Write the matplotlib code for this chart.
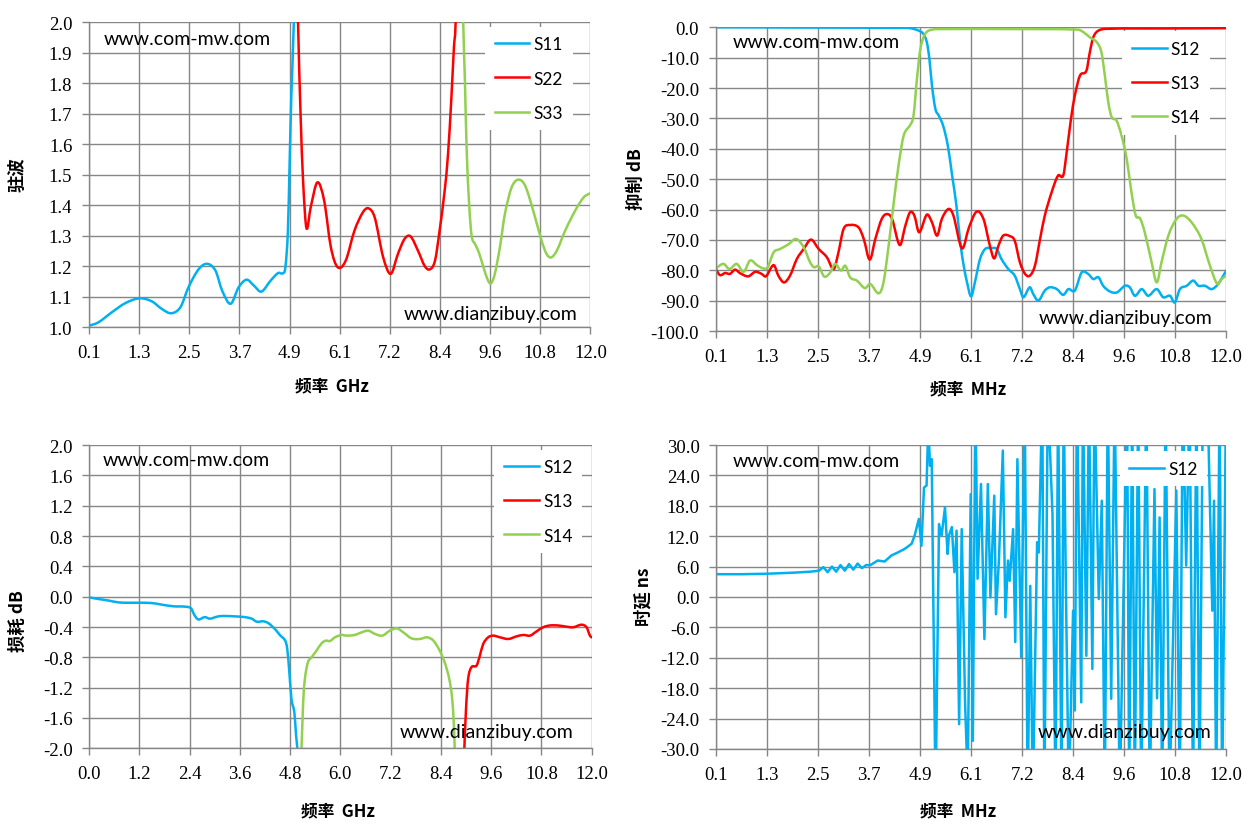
import matplotlib
matplotlib.use("Agg")
import matplotlib.pyplot as plt
from matplotlib.path import Path
from matplotlib.patches import PathPatch
import numpy as np

BLUE = "#00B0F0"
RED = "#FF0000"
GREEN = "#92D050"
GRID = "#868686"

# ---- top left: VSWR ----
vswr_ticks = ["0.1", "1.3", "2.5", "3.7", "4.9", "6.1", "7.2", "8.4", "9.6", "10.8", "12.0"]
s11_f = [0.1, 0.32, 0.64, 0.96, 1.3, 1.59, 1.83, 2.05, 2.27, 2.46, 2.7, 2.9, 3.1, 3.26, 3.46,
         3.65, 3.84, 4.01, 4.19, 4.41, 4.59, 4.7, 4.76, 4.82, 4.86, 4.9, 4.96, 5.0]
s11_v = [1.005, 1.016, 1.049, 1.079, 1.095, 1.085, 1.06, 1.046, 1.066, 1.131, 1.19, 1.208,
         1.186, 1.12, 1.077, 1.131, 1.156, 1.137, 1.117, 1.153, 1.178, 1.177, 1.197, 1.317,
         1.535, 1.754, 2.0, 2.3]
s22_f = [5.0, 5.06, 5.12, 5.18, 5.26, 5.36, 5.52, 5.68, 5.84, 6.0, 6.19, 6.4, 6.6, 6.73, 6.88,
         7.08, 7.26, 7.43, 7.59, 7.73, 7.91, 8.07, 8.19, 8.31, 8.42, 8.54, 8.62, 8.7, 8.76,
         8.8, 8.84]
s22_v = [2.4, 2.0, 1.70, 1.48, 1.325, 1.393, 1.475, 1.415, 1.262, 1.197, 1.218, 1.317, 1.377,
         1.39, 1.36, 1.23, 1.175, 1.24, 1.29, 1.298, 1.25, 1.20, 1.19, 1.218, 1.317, 1.448,
         1.568, 1.754, 1.918, 2.0, 2.3]
s33_f = [8.94, 8.98, 9.02, 9.06, 9.12, 9.18, 9.26, 9.35, 9.46, 9.57, 9.64, 9.73, 9.85, 9.97,
         10.13, 10.29, 10.45, 10.64, 10.84, 10.96, 11.07, 11.2, 11.4, 11.64, 11.84, 12.0]
s33_v = [2.3, 2.0, 1.81, 1.59, 1.405, 1.30, 1.273, 1.246, 1.197, 1.153, 1.144, 1.175, 1.262,
         1.372, 1.459, 1.484, 1.464, 1.383, 1.284, 1.24, 1.229, 1.251, 1.317, 1.383, 1.426,
         1.44]

# ---- top right: rejection ----
rej_ticks = vswr_ticks
rej_s12_f = [0.1, 2.5, 4.3, 4.63, 4.83, 4.94, 5.02, 5.08, 5.14, 5.22, 5.30, 5.40, 5.51, 5.61,
             5.71, 5.80, 5.88, 5.95, 6.05, 6.14, 6.26, 6.38, 6.53, 6.65, 6.76, 6.92, 7.07,
             7.19, 7.27, 7.42, 7.50, 7.62, 7.77, 7.89, 8.05, 8.20, 8.32, 8.47, 8.63, 8.78,
             8.90, 9.02, 9.13, 9.29, 9.45, 9.64, 9.75, 9.87, 10.03, 10.18, 10.38, 10.53,
             10.69, 10.80, 10.92, 11.08, 11.23, 11.35, 11.50, 11.66, 11.81, 12.0]
rej_s12_v = [0.0, -0.1, -0.2, -0.3, -1.1, -2.2, -4.9, -10.4, -19.2, -26.9, -29.1, -32.4, -39,
             -48.8, -58.7, -70.8, -78.5, -83.5, -88.6, -84, -76.3, -73, -72.7, -73, -76.3,
             -79.6, -81.8, -86.2, -88.9, -85.6, -87.8, -90, -86.7, -85.6, -86.2, -88.1, -86.2,
             -86.7, -80.7, -81.2, -82.9, -82.3, -85.1, -87, -87.3, -85.1, -85.6, -88.4, -86.2,
             -88.4, -86.2, -88.9, -88.4, -90.6, -86.2, -85.1, -83.4, -85.1, -85.1, -86.2,
             -84.5, -80.1]
rej_s13_f = [0.1, 0.2, 0.32, 0.43, 0.55, 0.67, 0.86, 1.02, 1.17, 1.27, 1.45, 1.56, 1.69, 1.83,
             1.99, 2.15, 2.32, 2.5, 2.69, 2.85, 2.96, 3.08, 3.23, 3.43, 3.55, 3.69, 3.82, 3.97,
             4.09, 4.21, 4.39, 4.52, 4.63, 4.73, 4.84, 5.02, 5.14, 5.26, 5.37, 5.53, 5.64,
             5.84, 6.0, 6.18, 6.34, 6.49, 6.59, 6.69, 6.80, 6.96, 7.07, 7.19, 7.31, 7.42, 7.54,
             7.66, 7.77, 7.93, 8.08, 8.2, 8.28, 8.38, 8.47, 8.59, 8.74, 8.82, 8.9, 9.02, 9.25,
             10.5, 12.0]
rej_s13_v = [-79.6, -81.6, -80.9, -81.2, -79.8, -81, -82, -80.5, -81.2, -82, -78.3, -81.8, -84,
             -81.8, -76.3, -73, -69.9, -73, -75.7, -79.6, -74.1, -66.4, -65.1, -65.9, -69.7,
             -76.5, -69.7, -63.1, -61.5, -63.1, -71.7, -65.3, -60.9, -62, -67.5, -61.7, -64.2,
             -68.6, -63.1, -59.8, -62, -72.8, -66, -60.7, -63.1, -71.9, -76.1, -71.9, -68.6,
             -68.8, -70.3, -77.4, -81.2, -81.8, -78.5, -69.7, -62, -54.3, -48.8, -48.8, -41.2,
             -30.2, -22.5, -15.9, -14.3, -8.2, -3.3, -1.1, -0.5, -0.4, -0.3]
rej_s14_f = [0.1, 0.28, 0.42, 0.59, 0.75, 0.9, 1.06, 1.21, 1.31, 1.45, 1.6, 1.8, 1.97, 2.15,
             2.30, 2.39, 2.5, 2.63, 2.77, 2.88, 3.02, 3.12, 3.23, 3.39, 3.58, 3.7, 3.9, 4.01,
             4.13, 4.25, 4.36, 4.48, 4.63, 4.71, 4.79, 4.87, 4.98, 5.14, 5.41, 7.0, 8.55, 8.67,
             8.82, 8.98, 9.09, 9.17, 9.25, 9.33, 9.44, 9.56, 9.68, 9.79, 9.89, 9.99, 10.1,
             10.26, 10.38, 10.49, 10.65, 10.84, 11.0, 11.19, 11.42, 11.62, 11.79, 11.89, 12.0]
rej_s14_v = [-79.4, -77.9, -79.6, -77.9, -80.5, -76.8, -78.3, -79.4, -79, -74.1, -73, -71.4,
             -69.7, -72.4, -77.4, -79, -78.7, -82.1, -80.7, -77.9, -80.1, -78.5, -82.3, -83.4,
             -85.9, -84.5, -87.6, -84, -71.9, -57.6, -45.6, -35.7, -32.2, -29.1, -17, -7.1,
             -2.2, -0.8, -0.6, -0.6, -0.8, -1.6, -3.3, -4.9, -8.2, -15.9, -24.7, -29.6, -30.7,
             -35.7, -43.4, -54.3, -62, -62.9, -67.5, -77.4, -84, -77.4, -68.6, -63.1, -62,
             -64.2, -69.7, -78.5, -84.5, -82.9, -81.8]

# ---- bottom left: insertion loss ----
loss_ticks = ["0.0", "1.2", "2.4", "3.6", "4.8", "6.0", "7.2", "8.4", "9.6", "10.8", "12.0"]
loss_s12_f = [0.0, 0.21, 0.45, 0.69, 0.93, 1.17, 1.49, 1.73, 2.01, 2.29, 2.43, 2.51, 2.60,
              2.76, 2.88, 3.08, 3.24, 3.48, 3.72, 3.88, 4.0, 4.16, 4.28, 4.44, 4.56, 4.68,
              4.73, 4.78, 4.83, 4.9, 4.94, 4.97, 5.0]
loss_s12_v = [-0.01, -0.03, -0.05, -0.075, -0.08, -0.08, -0.084, -0.105, -0.127, -0.132,
              -0.154, -0.24, -0.30, -0.27, -0.29, -0.26, -0.255, -0.26, -0.27, -0.29, -0.33,
              -0.325, -0.35, -0.43, -0.51, -0.58, -0.69, -1.0, -1.35, -1.53, -1.83, -2.0, -2.3]
loss_s14_f = [5.04, 5.07, 5.11, 5.15, 5.22, 5.31, 5.43, 5.55, 5.65, 5.75, 5.87, 6.03, 6.14,
              6.34, 6.46, 6.66, 6.82, 7.0, 7.18, 7.35, 7.5, 7.7, 7.9, 8.07, 8.22, 8.37, 8.49,
              8.6, 8.67, 8.71, 8.73, 8.75]
loss_s14_v = [-2.3, -2.0, -1.39, -1.09, -0.87, -0.80, -0.71, -0.615, -0.58, -0.585, -0.536,
              -0.505, -0.514, -0.505, -0.48, -0.448, -0.49, -0.514, -0.448, -0.418, -0.47,
              -0.55, -0.558, -0.536, -0.58, -0.71, -0.866, -1.086, -1.35, -1.70, -2.0, -2.3]
loss_s13_f = [8.94, 8.96, 9.0, 9.05, 9.13, 9.25, 9.33, 9.41, 9.53, 9.65, 9.81, 10.01, 10.21,
              10.37, 10.53, 10.68, 10.84, 11.0, 11.2, 11.4, 11.56, 11.76, 11.88, 11.96, 12.0]
loss_s13_v = [-2.3, -2.0, -1.48, -1.086, -0.93, -0.91, -0.78, -0.624, -0.536, -0.514, -0.536,
              -0.558, -0.523, -0.505, -0.514, -0.46, -0.404, -0.38, -0.38, -0.396, -0.404,
              -0.37, -0.404, -0.514, -0.536]

# ---- bottom right: group delay ----
delay_ticks = vswr_ticks
delay_f = [0.1, 0.7, 1.3, 1.9, 2.3, 2.5, 2.6, 2.7, 2.8, 2.9, 3.0, 3.1, 3.2, 3.3, 3.4, 3.5,
           3.6, 3.7, 3.87, 4.03, 4.19, 4.34, 4.5, 4.66, 4.73, 4.83, 4.89, 4.95, 5.01, 5.05,
           5.09, 5.13, 5.22, 5.30, 5.36, 5.44, 5.50, 5.53, 5.60, 5.66, 5.71, 5.77, 5.83, 5.91,
           5.97, 6.04, 6.09, 6.15, 6.20, 6.28, 6.36, 6.44, 6.50, 6.59, 6.63, 6.70, 6.79, 6.85,
           6.91, 6.95, 7.03, 7.08, 7.13, 7.22, 7.30, 7.37, 7.43, 7.49, 7.59, 7.63, 7.71, 7.76,
           7.84, 7.95, 8.02, 8.08, 8.16, 8.21, 8.26, 8.33, 8.43, 8.47, 8.52, 8.62, 8.66, 8.74,
           8.80, 8.88, 8.93, 9.03, 9.10, 9.17, 9.24, 9.32, 9.40, 9.52, 9.69, 9.74, 9.81, 9.87,
           9.95, 10.02, 10.14, 10.22, 10.33, 10.39, 10.45, 10.51, 10.59, 10.68, 10.84, 10.92,
           10.99, 11.07, 11.15, 11.23, 11.31, 11.38, 11.46, 11.58, 11.68, 11.72, 11.77, 11.85,
           11.91, 12.0]
delay_v = [4.5, 4.5, 4.6, 4.8, 5.0, 5.2, 5.9, 4.9, 6.0, 5.0, 6.3, 5.2, 6.5, 5.4, 6.6, 5.7,
           6.3, 6.3, 7.2, 7.0, 8.2, 8.8, 9.5, 10.5, 12.1, 15.4, 10.1, 21.6, 22.0, 34, 25.9,
           27.2, -40, 14.4, 12.1, 17.7, 8.5, 12.1, 13.8, 4.9, 13.1, -25.1, 13.4, -21.4, -36,
           20.3, -28.4, 40, 3.6, 22.3, -8.3, 22.3, -0.1, 20, -3.4, 7.5, 28.9, -4, 7.2, 3.2,
           13.4, -8.9, 27.2, -11.9, 40, -40, 2.2, -40, 10.8, 8.8, 40, -40, 40, 16.1, -40, 40,
           -40, 40, 3.2, -40, -2.7, -22.4, 40, -20.8, 40, -11.6, 40, -14.2, 40, -0.4, 19, -40,
           40, -20.1, 40, -40, 40, -40, 40, -40, 40, -40, 40, -40, 21.3, -20, 15.7, -40, 40,
           -40, 21, -40, 40, 6.2, 40, -40, 40, -40, 40, 35, -2.7, 19, -40, 40, -40, 40]


def smooth_line(ax, x, y, color, label, lw=1.8):
    # Excel style smoothed line: cubic Bezier through the points
    x = np.asarray(x, float)
    y = np.asarray(y, float)
    n = len(x)
    m = np.zeros(n)
    m[1:-1] = (y[2:] - y[:-2]) / (x[2:] - x[:-2])
    m[0] = (y[1] - y[0]) / (x[1] - x[0])
    m[-1] = (y[-1] - y[-2]) / (x[-1] - x[-2])
    verts = [(x[0], y[0])]
    codes = [Path.MOVETO]
    for i in range(n - 1):
        h = (x[i + 1] - x[i]) / 3
        verts += [(x[i] + h, y[i] + m[i] * h), (x[i + 1] - h, y[i + 1] - m[i + 1] * h),
                  (x[i + 1], y[i + 1])]
        codes += [Path.CURVE4] * 3
    ax.add_patch(PathPatch(Path(verts, codes), fill=False, edgecolor=color, lw=lw,
                           joinstyle="round", capstyle="round"))
    ax.plot([], [], color=color, lw=lw, label=label)


def style_axis(ax, xlim, xticks, xlabels, ylim, yticks):
    ax.set_xlim(*xlim)
    ax.set_ylim(*ylim)
    ax.set_xticks(xticks)
    ax.set_xticklabels(xlabels)
    ax.set_yticks(yticks)
    ax.set_yticklabels(["{:.1f}".format(v + 0.0) for v in yticks])
    ax.grid(True, color=GRID, linewidth=1.0)
    ax.set_axisbelow(True)
    for side in ["top", "right"]:
        ax.spines[side].set_visible(False)
    for side in ["left", "bottom"]:
        ax.spines[side].set_color(GRID)
        ax.spines[side].set_linewidth(1.0)
    ax.tick_params(axis="both", colors=GRID, labelcolor="black", length=5, width=1.0,
                   direction="out", pad=7, labelsize=13.5,
                   labelfontfamily="Liberation Serif")


def watermark(ax, top_xy, bottom_xy):
    ax.text(top_xy[0], top_xy[1], "www.com-mw.com", transform=ax.transAxes,
            fontfamily="Lato", fontsize=14, ha="left", va="baseline", zorder=5)
    ax.text(bottom_xy[0], bottom_xy[1], "www.dianzibuy.com", transform=ax.transAxes,
            fontfamily="Lato", fontsize=14, ha="right", va="baseline", zorder=5)


def add_legend(ax, anchor):
    leg = ax.legend(loc="upper right", bbox_to_anchor=anchor, borderaxespad=0,
                    frameon=True, fancybox=False, framealpha=1, facecolor="white",
                    edgecolor="none", prop={"family": "Lato", "size": 12.5},
                    handlelength=2.0, handletextpad=0.25, labelspacing=1.05,
                    borderpad=0.55)
    leg.set_zorder(6)


def axis_labels(ax, xlabel, xpos, ylabel, ypos):
    ax.set_xlabel(xlabel, fontfamily="Noto Sans CJK SC", fontweight="bold", fontsize=12)
    ax.xaxis.set_label_coords(*xpos)
    ax.set_ylabel(ylabel, fontfamily="Noto Sans CJK SC", fontweight="bold", fontsize=12.5)
    ax.yaxis.set_label_coords(*ypos)


fig = plt.figure(figsize=(12.59, 8.29), dpi=100)

# top left
ax1 = fig.add_axes([0.0707, 0.604, 0.3983, 0.368])
smooth_line(ax1, s11_f, s11_v, BLUE, "S11")
smooth_line(ax1, s22_f, s22_v, RED, "S22")
smooth_line(ax1, s33_f, s33_v, GREEN, "S33")
style_axis(ax1, (0.1, 12.0), np.linspace(0.1, 12.0, 11), vswr_ticks,
           (1.0, 2.0), np.round(np.arange(1.0, 2.01, 0.1), 1))
axis_labels(ax1, "频率  GHz", (0.485, -0.16), "驻波", (-0.124, 0.503))
watermark(ax1, (0.03, 0.93), (0.973, 0.027))
add_legend(ax1, (0.965, 0.985))

# top right
ax2 = fig.add_axes([0.5685, 0.5995, 0.4055, 0.3664])
smooth_line(ax2, rej_s12_f, rej_s12_v, BLUE, "S12")
smooth_line(ax2, rej_s13_f, rej_s13_v, RED, "S13")
smooth_line(ax2, rej_s14_f, rej_s14_v, GREEN, "S14")
style_axis(ax2, (0.1, 12.0), np.linspace(0.1, 12.0, 11), rej_ticks,
           (-100, 0), np.arange(-100, 1, 10))
axis_labels(ax2, "频率  MHz", (0.494, -0.158), "抑制 dB", (-0.138, 0.504))
watermark(ax2, (0.034, 0.934), (0.972, 0.026))
add_legend(ax2, (0.968, 0.987))

# bottom left
ax3 = fig.add_axes([0.0709, 0.0961, 0.399, 0.3659])
smooth_line(ax3, loss_s12_f, loss_s12_v, BLUE, "S12")
smooth_line(ax3, loss_s13_f, loss_s13_v, RED, "S13")
smooth_line(ax3, loss_s14_f, loss_s14_v, GREEN, "S14")
style_axis(ax3, (0.0, 12.0), np.linspace(0.0, 12.0, 11), loss_ticks,
           (-2.0, 2.0), np.round(np.arange(-2.0, 2.01, 0.4), 1))
axis_labels(ax3, "频率  GHz", (0.495, -0.174), "损耗 dB", (-0.124, 0.423))
watermark(ax3, (0.027, 0.934), (0.963, 0.037))
add_legend(ax3, (0.981, 0.985))

# bottom right
ax4 = fig.add_axes([0.5689, 0.0953, 0.4049, 0.3667])
ax4.plot(delay_f, delay_v, color=BLUE, lw=1.8, label="S12")
style_axis(ax4, (0.1, 12.0), np.linspace(0.1, 12.0, 11), delay_ticks,
           (-30, 30), np.arange(-30, 31, 6))
axis_labels(ax4, "频率  MHz", (0.474, -0.171), "时延 ns", (-0.126, 0.503))
watermark(ax4, (0.033, 0.931), (0.971, 0.039))
add_legend(ax4, (0.963, 0.98))

fig.savefig("out.png", dpi=100)
